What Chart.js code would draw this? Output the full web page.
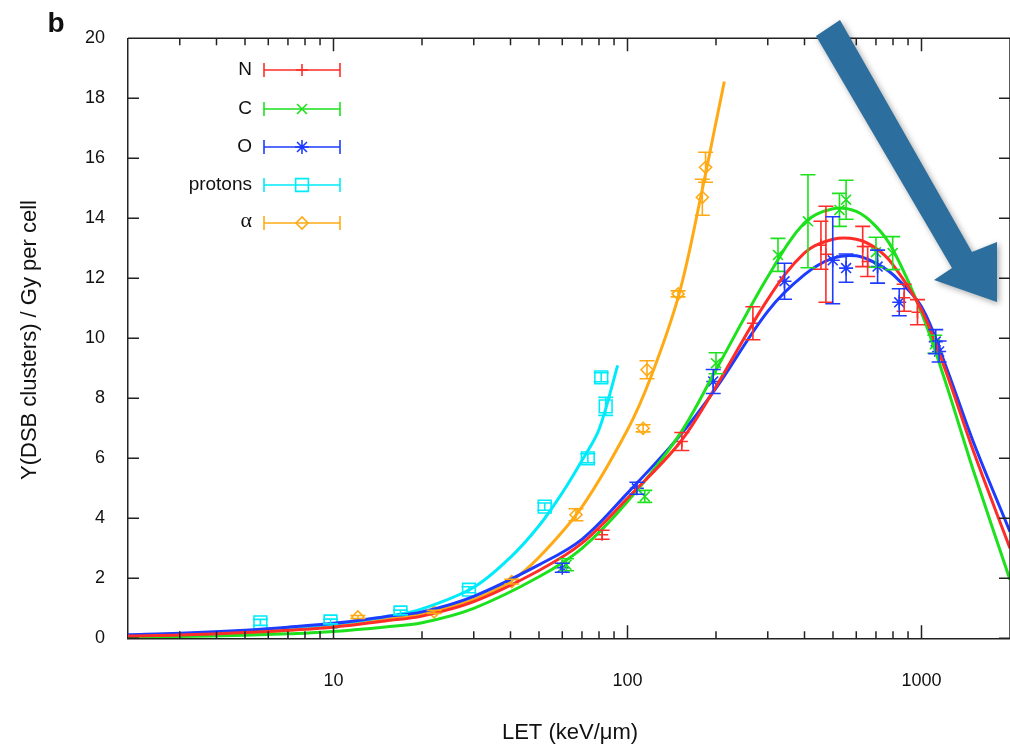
<!DOCTYPE html>
<html>
<head>
<meta charset="utf-8">
<title>Y(DSB clusters) vs LET</title>
<script src="https://cdn.jsdelivr.net/npm/chart.js@4/dist/chart.umd.min.js"></script>
<style>
  html, body { margin: 0; padding: 0; background: #fff; }
  #wrap { position: relative; width: 1010px; height: 748px; }
</style>
</head>
<body>
<div id="wrap"><canvas id="c" width="1010" height="748"></canvas></div>
<script>
// measured points (LET in keV/um, yield, error)
const letN = [82, 153, 267, 455, 473, 631, 656, 873, 969];
const yN   = [3.45, 6.56, 10.5, 13.1, 12.8, 13.06, 12.56, 11.35, 10.87];
const eN   = [0.15, 0.3, 0.55, 0.8, 1.6, 0.67, 0.5, 0.45, 0.42];

const letC = [62, 114.5, 200, 325, 411, 526, 554, 700, 798, 1110];
const yC   = [2.45, 4.73, 9.17, 12.78, 13.9, 14.28, 14.62, 12.87, 12.84, 9.8];
const eC   = [0.2, 0.2, 0.35, 0.55, 1.55, 0.55, 0.65, 0.5, 0.55, 0.3];

const letO = [60, 107.6, 195.7, 342, 499, 554, 709, 840, 1118, 1148];
const yO   = [2.35, 5.0, 8.56, 11.9, 12.6, 12.34, 12.39, 11.2, 9.89, 9.56];
const eO   = [0.15, 0.2, 0.4, 0.6, 1.45, 0.47, 0.55, 0.45, 0.4, 0.35];

const letP = [5.64, 9.77, 16.9, 28.9, 52.3, 73.3, 81.4, 84.3];
const yP   = [0.53, 0.56, 0.86, 1.62, 4.39, 6.0, 8.7, 7.73];
const eP   = [0.1, 0.08, 0.08, 0.1, 0.12, 0.15, 0.15, 0.3];

const letA = [12.1, 22, 40.4, 66.8, 113, 116.5, 148.6, 179.7, 184.3];
const yA   = [0.71, 0.88, 1.89, 4.12, 7.0, 8.95, 11.48, 14.7, 15.7];
const eA   = [0.05, 0.05, 0.08, 0.2, 0.12, 0.3, 0.1, 0.6, 0.5];

// fitted curves
const fitLet = [2, 3, 5, 7, 10, 15, 20, 30, 50, 70, 100, 150, 200, 300, 400, 500, 600, 700, 800, 1000, 1200, 1500, 2000];
const fitN = [0.08, 0.11, 0.19, 0.27, 0.37, 0.58, 0.74, 1.22, 2.26, 3.17, 4.67, 6.5, 8.39, 11.3, 12.85, 13.3, 13.3, 13.0, 12.45, 10.95, 9.0, 6.25, 3.0];
const fitC = [0.04, 0.06, 0.1, 0.15, 0.23, 0.38, 0.52, 1.0, 2.05, 3.0, 4.56, 6.78, 8.95, 12.05, 13.85, 14.32, 14.23, 13.73, 12.95, 10.85, 8.62, 5.6, 1.95];
const fitO = [0.12, 0.17, 0.27, 0.37, 0.5, 0.72, 0.88, 1.4, 2.45, 3.3, 4.84, 6.73, 8.34, 10.9, 12.12, 12.67, 12.75, 12.5, 12.12, 11.05, 9.17, 6.55, 3.55];
const fitPLet = [2, 5, 10, 15, 20, 30, 40, 50, 60, 70, 80, 92.6];
const fitP    = [0.1, 0.23, 0.48, 0.72, 0.98, 1.7, 2.7, 3.75, 4.85, 5.93, 6.96, 9.1];
const fitALet = [2, 5, 10, 15, 20, 30, 40, 50, 70, 100, 120, 150, 180, 200, 213.5];
const fitA    = [0.06, 0.16, 0.42, 0.62, 0.82, 1.3, 1.9, 2.7, 4.38, 6.95, 8.7, 11.5, 15.0, 17.2, 18.56];

// axes
const xTickLabels = [10, 100, 1000];
const xMinorTicks = [3, 4, 5, 6, 7, 8, 9, 20, 30, 40, 50, 60, 70, 80, 90, 200, 300, 400, 500, 600, 700, 800, 900];
const yTicks = [0, 2, 4, 6, 8, 10, 12, 14, 16, 18, 20];

const series = [
  { name: 'N',       color: 'rgb(255,45,40)',  style: 'cross',    r: 6, let: letN, y: yN, e: eN, fx: fitLet,  fy: fitN },
  { name: 'C',       color: 'rgb(30,225,30)',  style: 'crossRot', r: 7, let: letC, y: yC, e: eC, fx: fitLet,  fy: fitC },
  { name: 'O',       color: 'rgb(30,60,255)',  style: 'star',     r: 7, let: letO, y: yO, e: eO, fx: fitLet,  fy: fitO },
  { name: 'protons', color: 'rgb(0,235,250)',  style: 'rect',     r: 9, let: letP, y: yP, e: eP, fx: fitPLet, fy: fitP },
  { name: 'α',       color: 'rgb(255,170,20)', style: 'rectRot',  r: 6, let: letA, y: yA, e: eA, fx: fitALet, fy: fitA }
];

const FONT = "'Liberation Sans', Arial, Helvetica, sans-serif";
Chart.defaults.font.family = FONT;

const datasets = [];
series.forEach(s => {
  datasets.push({
    label: s.name + ' fit',
    data: s.fx.map((x, i) => ({ x: x, y: s.fy[i] })),
    showLine: true,
    borderColor: s.color,
    borderWidth: 3,
    pointRadius: 0,
    tension: 0.35,
    fill: false
  });
});
series.forEach(s => {
  datasets.push({
    label: s.name,
    data: s.let.map((x, i) => ({ x: x, y: s.y[i] })),
    errors: s.e,
    showLine: false,
    borderColor: s.color,
    backgroundColor: 'rgba(0,0,0,0)',
    pointStyle: s.style,
    pointRadius: s.r,
    pointBorderWidth: 1.6
  });
});

function drawMarker(ctx, style, r, x, y) {
  if (Chart.helpers && Chart.helpers.drawPoint) {
    ctx.fillStyle = 'rgba(0,0,0,0)';
    Chart.helpers.drawPoint(ctx, { pointStyle: style, radius: r, borderWidth: 1.6, rotation: 0 }, x, y);
  }
}

const errorBars = {
  id: 'errorBars',
  afterDatasetsDraw(chart) {
    const ctx = chart.ctx, ys = chart.scales.y;
    ctx.save();
    chart.data.datasets.forEach((ds, di) => {
      if (!ds.errors) return;
      const meta = chart.getDatasetMeta(di);
      ctx.strokeStyle = ds.borderColor;
      ctx.lineWidth = 1.6;
      meta.data.forEach((pt, i) => {
        const v = ds.data[i].y, e = ds.errors[i];
        const y1 = ys.getPixelForValue(v - e), y2 = ys.getPixelForValue(v + e);
        ctx.beginPath();
        ctx.moveTo(pt.x, y1); ctx.lineTo(pt.x, y2);
        ctx.moveTo(pt.x - 7.5, y1); ctx.lineTo(pt.x + 7.5, y1);
        ctx.moveTo(pt.x - 7.5, y2); ctx.lineTo(pt.x + 7.5, y2);
        ctx.stroke();
      });
    });
    ctx.restore();
  }
};

const frame = {
  id: 'frame',
  afterDraw(chart) {
    const ctx = chart.ctx, a = chart.chartArea;
    const xs = chart.scales.x, ys = chart.scales.y;
    ctx.save();
    ctx.strokeStyle = '#222';
    ctx.lineWidth = 1.5;
    ctx.beginPath();
    ctx.moveTo(a.left, a.top); ctx.lineTo(a.right, a.top);
    ctx.moveTo(a.right, a.top); ctx.lineTo(a.right, a.bottom);
    // inward ticks
    xTickLabels.forEach(v => {
      const px = xs.getPixelForValue(v);
      ctx.moveTo(px, a.bottom); ctx.lineTo(px, a.bottom - 13);
      ctx.moveTo(px, a.top); ctx.lineTo(px, a.top + 13);
    });
    xMinorTicks.forEach(v => {
      const px = xs.getPixelForValue(v);
      ctx.moveTo(px, a.bottom); ctx.lineTo(px, a.bottom - 7);
      ctx.moveTo(px, a.top); ctx.lineTo(px, a.top + 7);
    });
    yTicks.forEach(v => {
      const py = ys.getPixelForValue(v);
      ctx.moveTo(a.left, py); ctx.lineTo(a.left + 11, py);
      ctx.moveTo(a.right, py); ctx.lineTo(a.right - 11, py);
    });
    ctx.stroke();

    // legend
    const rowY = [70, 109, 147, 185, 223];
    ctx.textAlign = 'right';
    ctx.textBaseline = 'middle';
    series.forEach((s, i) => {
      const y = rowY[i];
      ctx.fillStyle = '#111';
      if (s.name === 'α') {
        ctx.font = '22px "Liberation Serif", "Times New Roman", serif';
        ctx.fillText(s.name, 252, y - 2);
      } else {
        ctx.font = '19px ' + FONT;
        ctx.fillText(s.name, 252, y);
      }
      ctx.strokeStyle = s.color;
      ctx.lineWidth = 1.6;
      ctx.beginPath();
      ctx.moveTo(264, y); ctx.lineTo(340, y);
      ctx.moveTo(264, y - 7); ctx.lineTo(264, y + 7);
      ctx.moveTo(340, y - 7); ctx.lineTo(340, y + 7);
      ctx.stroke();
      drawMarker(ctx, s.style, s.r, 302, y);
    });

    // axis titles and panel letter
    ctx.fillStyle = '#111';
    ctx.textAlign = 'center';
    ctx.textBaseline = 'middle';
    ctx.font = '22px ' + FONT;
    ctx.fillText('LET (keV/μm)', 570, 733);
    ctx.save();
    ctx.translate(30, 340);
    ctx.rotate(-Math.PI / 2);
    ctx.fillText('Y(DSB clusters) / Gy per cell', 0, 0);
    ctx.restore();
    ctx.font = 'bold 28px ' + FONT;
    ctx.fillText('b', 56, 24);

    // annotation arrow
    ctx.fillStyle = 'rgb(44,111,158)';
    ctx.shadowColor = 'rgba(0,0,0,0.35)';
    ctx.shadowBlur = 6;
    ctx.shadowOffsetX = 2;
    ctx.shadowOffsetY = 2;
    ctx.beginPath();
    ctx.moveTo(816, 36);
    ctx.lineTo(840, 20);
    ctx.lineTo(972, 252);
    ctx.lineTo(997, 242);
    ctx.lineTo(997, 302);
    ctx.lineTo(934, 280);
    ctx.lineTo(952, 268);
    ctx.closePath();
    ctx.fill();
    ctx.restore();
  }
};

new Chart(document.getElementById('c'), {
  type: 'scatter',
  data: { datasets: datasets },
  options: {
    responsive: false,
    animation: false,
    devicePixelRatio: 1,
    layout: { autoPadding: false, padding: { top: 38.3, right: 0, left: 0, bottom: 0 } },
    plugins: { legend: { display: false }, tooltip: { enabled: false } },
    scales: {
      x: {
        type: 'logarithmic',
        min: 2, max: 2000,
        grid: { display: false },
        border: { display: true, color: '#222', width: 1.5 },
        afterBuildTicks: s => { s.ticks = xTickLabels.map(v => ({ value: v })); },
        afterFit: s => { s.height = 109.7; s.paddingLeft = 0; s.paddingRight = 0; },
        ticks: {
          autoSkip: false, maxRotation: 0, padding: 24,
          color: '#111', font: { size: 18 },
          callback: v => String(v)
        }
      },
      y: {
        min: 0, max: 20,
        grid: { display: false },
        border: { display: true, color: '#222', width: 1.5 },
        afterBuildTicks: s => { s.ticks = yTicks.map(v => ({ value: v })); },
        afterFit: s => { s.width = 128; s.paddingTop = 0; s.paddingBottom = 0; },
        ticks: { padding: 15, color: '#111', font: { size: 18 } }
      }
    }
  },
  plugins: [errorBars, frame]
});
</script>
</body>
</html>
